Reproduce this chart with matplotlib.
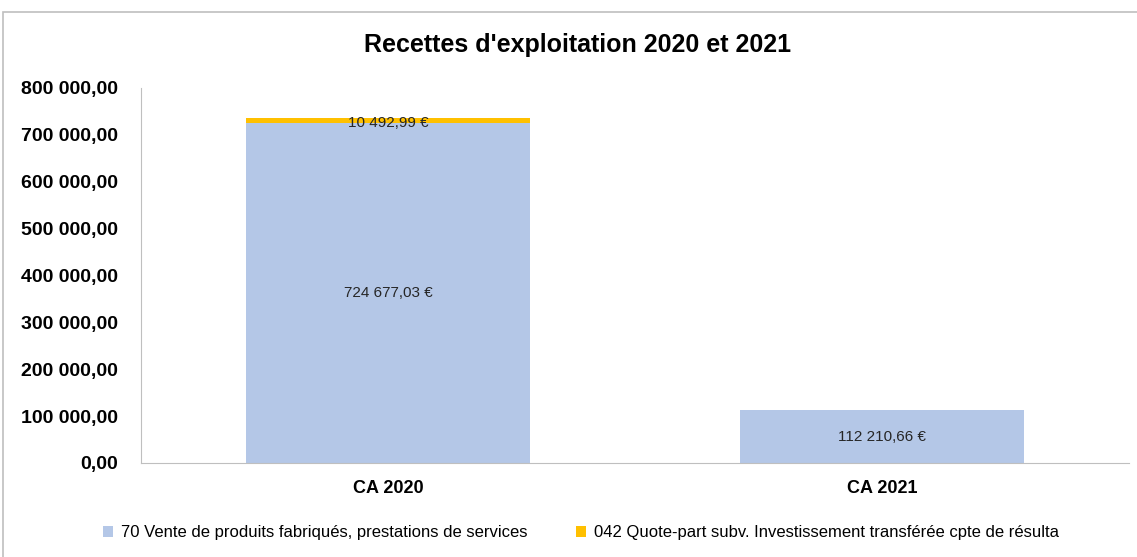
import matplotlib
matplotlib.use("Agg")
import matplotlib.pyplot as plt
from matplotlib.patches import Rectangle

categories = ["CA 2020", "CA 2021"]
vente = [724677.03, 112210.66]
quote_part = [10492.99, 0.0]
series_names = ["70 Vente de produits fabriqués, prestations de services",
                "042 Quote-part subv. Investissement transférée cpte de résulta"]
yticks = [0, 100000, 200000, 300000, 400000, 500000, 600000, 700000, 800000]

FONT = ["Liberation Sans", "DejaVu Sans"]
plt.rcParams['font.family'] = FONT

def fr(v, euro=False):
    s = f"{v:,.2f}".replace(",", " ").replace(".", ",")
    return s + (" €" if euro else "")

fig = plt.figure(figsize=(11.37, 5.57), dpi=100)
fig.patches.append(Rectangle((3/1137, -0.1), 1.2, (557-12)/557 + 0.1, transform=fig.transFigure,
                             fill=False, edgecolor="#BFBFBF", linewidth=1.2))
ax = fig.add_axes([141/1137, (557-463)/557, (1129-141)/1137, (463-88)/557])

x = list(range(len(categories)))
blue = "#B4C7E7"
orange = "#FFC000"
w = 0.575
ax.bar(x, vente, width=w, color=blue, label=series_names[0])
ax.bar(x, quote_part, width=w, bottom=vente, color=orange, label=series_names[1])

for i in x:
    ax.text(i, vente[i] / 2, fr(vente[i], True), ha="center", va="center",
            fontsize=11, color="#262626")
    if quote_part[i] > 0:
        ax.text(i, vente[i] + quote_part[i] / 2 - 4000, fr(quote_part[i], True), ha="center",
                va="center", fontsize=11, color="#262626")

ax.set_xlim(-0.5, 1.5)
ax.set_ylim(0, 800000)
ax.set_yticks(yticks)
ax.set_yticklabels([fr(v) for v in yticks], fontsize=14, fontweight="bold")
ax.set_xticks(x)
ax.set_xticklabels(categories, fontsize=13, fontweight="bold")
ax.tick_params(axis="both", length=0)
ax.tick_params(axis="y", pad=16.5)
ax.tick_params(axis="x", pad=12)
for s in ["top", "right"]:
    ax.spines[s].set_visible(False)
for s in ["left", "bottom"]:
    ax.spines[s].set_color("#BFBFBF")

fig.text(578/1137, (557-45)/557, "Recettes d'exploitation 2020 et 2021", ha="center", va="center",
         fontsize=18, fontweight="bold")

fig.legend(loc="center", bbox_to_anchor=(581/1137, (557-533)/557), ncol=2, frameon=False,
           fontsize=12, handlelength=0.6, handleheight=0.6, columnspacing=2.9, handletextpad=0.5)

fig.savefig("out.png", dpi=100)
